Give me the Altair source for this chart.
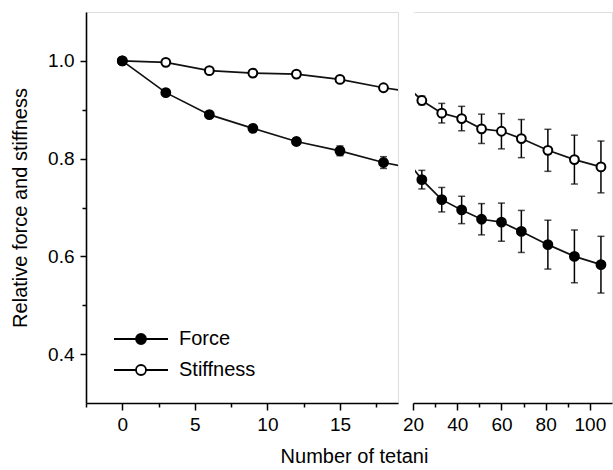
import altair as alt
import pandas as pd

# ---- data ----
tetani = [0, 3, 6, 9, 12, 15, 18, 24, 33, 42, 51, 60, 69, 81, 93, 105]
force = [1.000, 0.935, 0.890, 0.862, 0.835, 0.816, 0.792, 0.757, 0.716, 0.695,
         0.676, 0.670, 0.651, 0.624, 0.600, 0.583]
force_err = [0.000, 0.004, 0.005, 0.006, 0.007, 0.010, 0.012, 0.019, 0.025, 0.028,
             0.032, 0.039, 0.043, 0.050, 0.054, 0.058]
stiffness = [1.000, 0.997, 0.980, 0.975, 0.973, 0.962, 0.945, 0.919, 0.893, 0.882,
             0.861, 0.856, 0.841, 0.817, 0.798, 0.783]
stiffness_err = [0.000, 0.003, 0.004, 0.004, 0.005, 0.005, 0.006, 0.009, 0.020, 0.025,
                 0.030, 0.036, 0.039, 0.043, 0.050, 0.053]
series_names = ["Force", "Stiffness"]

left_major = [0, 5, 10, 15]
left_minor = [-2.5, 2.5, 7.5, 12.5, 17.5]
right_major = [20, 40, 60, 80, 100]
right_minor = [30, 50, 70, 90]
y_major = [0.4, 0.6, 0.8, 1.0]
y_minor = [0.5, 0.7, 0.9]

rows = []
for name, vals, errs in (("Stiffness", stiffness, stiffness_err), ("Force", force, force_err)):
    for x, v, e in zip(tetani, vals, errs):
        rows.append({"series": name, "x": x, "y": v, "lo": v - e, "hi": v + e})
df = pd.DataFrame(rows)

FONT = "Liberation Sans"
Y_SCALE = alt.Scale(domain=[0.3, 1.1], nice=False, zero=False)
LEGEND_PATH = ("M-2.7,0L-0.5,0M0.5,0L2.7,0"
               "M-0.5,0A0.5,0.5,0,1,1,0.5,0A0.5,0.5,0,1,1,-0.5,0Z")


def major_x(values, title=None, **kw):
    return alt.Axis(values=values, orient="bottom", format="d", grid=False, domain=True,
                    labelFont=FONT, labelFontSize=19, labelColor="black", labelPadding=5,
                    labelFlush=False, labelOverlap=False, zindex=2,
                    tickColor="black", tickWidth=1.5, tickSize=7,
                    domainColor="black", domainWidth=1.6, title=title, **kw)


def minor_x(values):
    return alt.Axis(values=values, orient="bottom", labels=False, domain=False, grid=False,
                    tickColor="black", tickWidth=1.5, tickSize=4, title=None, zindex=2)


def panel(x_dom, width, x_major_axis, x_minor_axis, show_y, legend, pts_filter, line_filter):
    xs = alt.Scale(domain=x_dom, nice=False, zero=False)
    base = alt.Chart(df)
    if show_y:
        y_major_axis = alt.Axis(values=y_major, orient="left", format=".1f", grid=False,
                                domain=True,
                                labelFont=FONT, labelFontSize=19, labelColor="black",
                                labelPadding=6, labelFlush=False,
                                tickColor="black", tickWidth=1.5, tickSize=6,
                                domainColor="black", domainWidth=1.6,
                                title="Relative force and stiffness", titleFont=FONT,
                                titleFontSize=20, titleFontWeight="normal",
                                titleColor="black", titlePadding=17)
        y_minor_axis = alt.Axis(values=y_minor, orient="left", labels=False, domain=False,
                                grid=False, tickColor="black", tickWidth=1.5, tickSize=4,
                                title=None)
    else:
        # no visible y axis on the right part of the broken axis
        y_major_axis = None
        y_minor_axis = alt.Axis(orient="left", labels=False, ticks=False, grid=False,
                                domain=True, domainColor="white", domainWidth=3,
                                title=None, zindex=1)

    rules = base.mark_rule(color="black", strokeWidth=1.5).encode(
        x=alt.X("x:Q", scale=xs, axis=x_minor_axis),
        y=alt.Y("lo:Q", scale=Y_SCALE, axis=y_minor_axis),
        y2="hi:Q",
    ).transform_filter(pts_filter)
    cap_lo = base.mark_tick(orient="horizontal", size=7, thickness=1.5, color="black").encode(
        x=alt.X("x:Q", scale=xs, axis=None),
        y=alt.Y("lo:Q", scale=Y_SCALE, axis=None),
    ).transform_filter(pts_filter)
    cap_hi = base.mark_tick(orient="horizontal", size=7, thickness=1.5, color="black").encode(
        x=alt.X("x:Q", scale=xs, axis=None),
        y=alt.Y("hi:Q", scale=Y_SCALE, axis=None),
    ).transform_filter(pts_filter)
    lines = base.mark_line(clip=True, color="#111111", strokeWidth=1.7).encode(
        x=alt.X("x:Q", scale=xs, axis=x_major_axis),
        y=alt.Y("y:Q", scale=Y_SCALE, axis=y_major_axis),
        detail="series:N",
        order="x:Q",
    ).transform_filter(line_filter)
    points = base.mark_point(filled=True, size=78, stroke="black", strokeWidth=2,
                             opacity=1).encode(
        x=alt.X("x:Q", scale=xs, axis=None),
        y=alt.Y("y:Q", scale=Y_SCALE, axis=None),
        fill=alt.Fill("series:N",
                      scale=alt.Scale(domain=series_names, range=["black", "white"]),
                      legend=legend),
    ).transform_filter(pts_filter)
    layer = alt.layer(rules, cap_lo, cap_hi, lines, points).resolve_axis(
        x="independent", y="independent"
    )
    return layer.properties(width=width, height=391)


legend = alt.Legend(orient="none", legendX=44, legendY=316, title=None,
                    symbolType=LEGEND_PATH, symbolSize=400,
                    symbolStrokeColor="black", symbolStrokeWidth=1.8,
                    labelFont=FONT, labelFontSize=20, labelColor="black",
                    labelOffset=27, rowPadding=10, padding=0)

left = panel([-2.5, 19], 312,
             major_x(left_major, title="Number of tetani", titleFont=FONT, titleFontSize=20,
                     titleFontWeight="normal", titleColor="black", titleX=268, titleY=59,
                     titleAlign="center", titleBaseline="alphabetic"),
             minor_x(left_minor), True, legend,
             alt.datum.x <= 18, alt.datum.x <= 24)
right = panel([20, 110], 199, major_x(right_major), minor_x(right_minor), False, None,
              alt.datum.x >= 24, alt.datum.x >= 18)

chart = alt.hconcat(left, right, spacing=15, bounds="flush").resolve_scale(
    fill="independent"
).properties(
    padding={"left": 10, "top": 11, "right": 0, "bottom": 0}
).configure_view(
    strokeWidth=0, stroke="transparent"
).configure(background="white")

chart.save("out.html", embed_options={"renderer": "svg", "actions": False})
